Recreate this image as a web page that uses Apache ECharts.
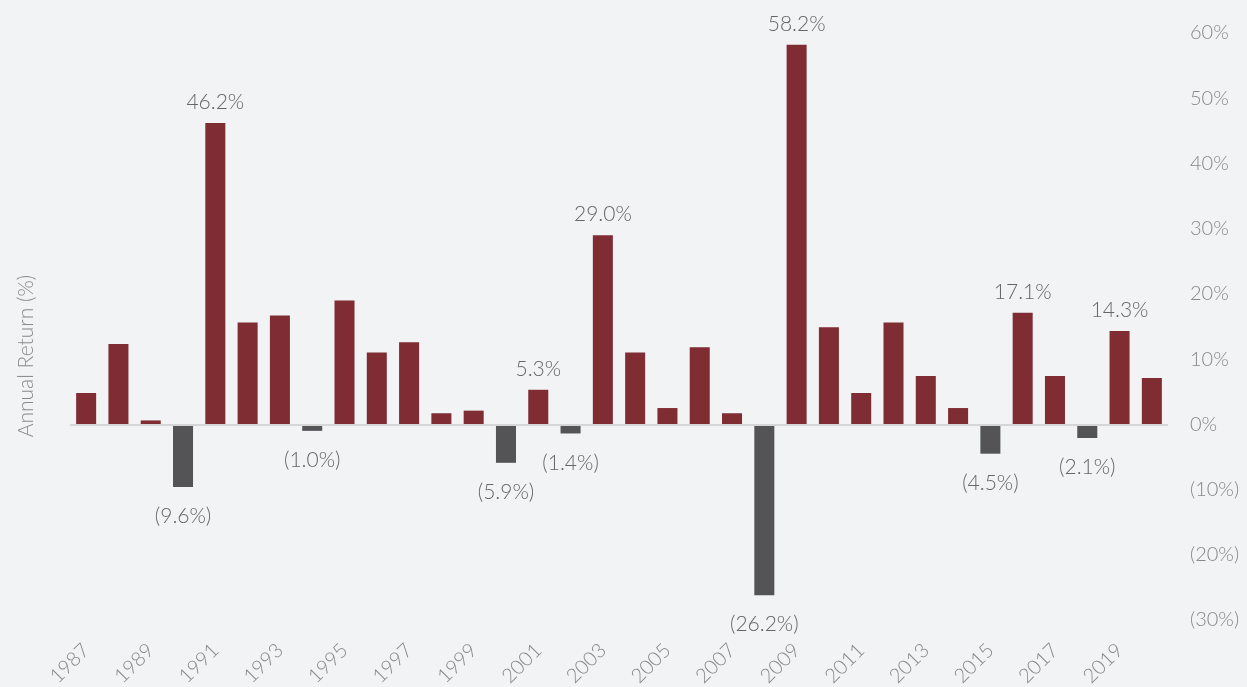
<!DOCTYPE html>
<html>
<head>
<meta charset="utf-8">
<script src="https://cdn.jsdelivr.net/npm/echarts@6/dist/echarts.min.js"></script>
<style>
  html, body { margin: 0; padding: 0; background: #f2f3f5; }
  #chart { width: 1247px; height: 687px; }
</style>
</head>
<body>
<div id="chart"></div>
<script>
'use strict'

// 年份
var years = ['1987','1988','1989','1990','1991','1992','1993','1994','1995','1996','1997',
  '1998','1999','2000','2001','2002','2003','2004','2005','2006','2007','2008','2009',
  '2010','2011','2012','2013','2014','2015','2016','2017','2018','2019','2020'];
// 年回报率 (%)
var returns = [4.8, 12.3, 0.6, -9.6, 46.2, 15.6, 16.7, -1.0, 19.0, 11.0, 12.6,
  1.7, 2.1, -5.9, 5.3, -1.4, 29.0, 11.0, 2.5, 11.8, 1.7, -26.2, 58.2,
  14.9, 4.8, 15.6, 7.4, 2.5, -4.5, 17.1, 7.4, -2.1, 14.3, 7.1];
// 显示数值标签的年份
var labeledYears = ['1990','1991','1994','2000','2001','2002','2003','2008','2009','2015','2016','2018','2019'];

var FONT = 'Lato';

function fmtPct(v){
    return v < 0 ? '(' + Math.abs(v).toFixed(1) + '%)' : v.toFixed(1) + '%';
}

var barData = returns.map(function(v, i){
    var show = labeledYears.indexOf(years[i]) >= 0;
    return {
        value: v,
        itemStyle: { color: v < 0 ? '#545457' : '#7f2d33' },
        label: {
            show: show,
            position: v < 0 ? 'bottom' : 'top',
            distance: v < 0 ? 19 : 10
        }
    };
});

var chartView = echarts.init(document.getElementById('chart'));
chartView.setOption({
    backgroundColor: '#f2f3f5',
    animation: false,
    grid: { left: 70, right: 79, top: 33, bottom: 67, outerBoundsMode: 'none', containLabel: false },
    graphic: [{
        type: 'text',
        rotation: Math.PI / 2,
        x: 26, y: 356,
        style: {
            text: 'Annual Return (%)',
            font: '300 21px ' + FONT,
            fill: '#8a8a8a',
            align: 'center',
            verticalAlign: 'middle'
        }
    }],
    xAxis: {
        type: 'category',
        data: years,
        axisLine: { show: false, onZero: false },
        axisTick: { show: false },
        axisLabel: {
            interval: 1,
            rotate: 45,
            margin: 27,
            color: '#888',
            fontFamily: FONT,
            fontWeight: 300,
            fontSize: 20
        }
    },
    yAxis: {
        type: 'value',
        position: 'right',
        min: -30, max: 60, interval: 10,
        splitLine: { show: false },
        axisLine: { show: false },
        axisTick: { show: false },
        axisLabel: {
            margin: 22,
            color: '#888',
            fontFamily: FONT,
            fontWeight: 300,
            fontSize: 20,
            formatter: function(v){ return v < 0 ? '(' + Math.abs(v) + '%)' : v + '%'; }
        }
    },
    series: [{
        type: 'bar',
        data: barData,
        barWidth: '62%',
        label: {
            color: '#666',
            fontFamily: FONT,
            fontWeight: 300,
            fontSize: 21,
            formatter: function(p){ return fmtPct(p.value); }
        },
        markLine: {
            silent: true,
            symbol: 'none',
            label: { show: false },
            lineStyle: { color: '#d6d6d6', width: 2, type: 'solid' },
            data: [{ yAxis: 0 }]
        },
        z: 3
    }]
});
</script>
</body>
</html>
